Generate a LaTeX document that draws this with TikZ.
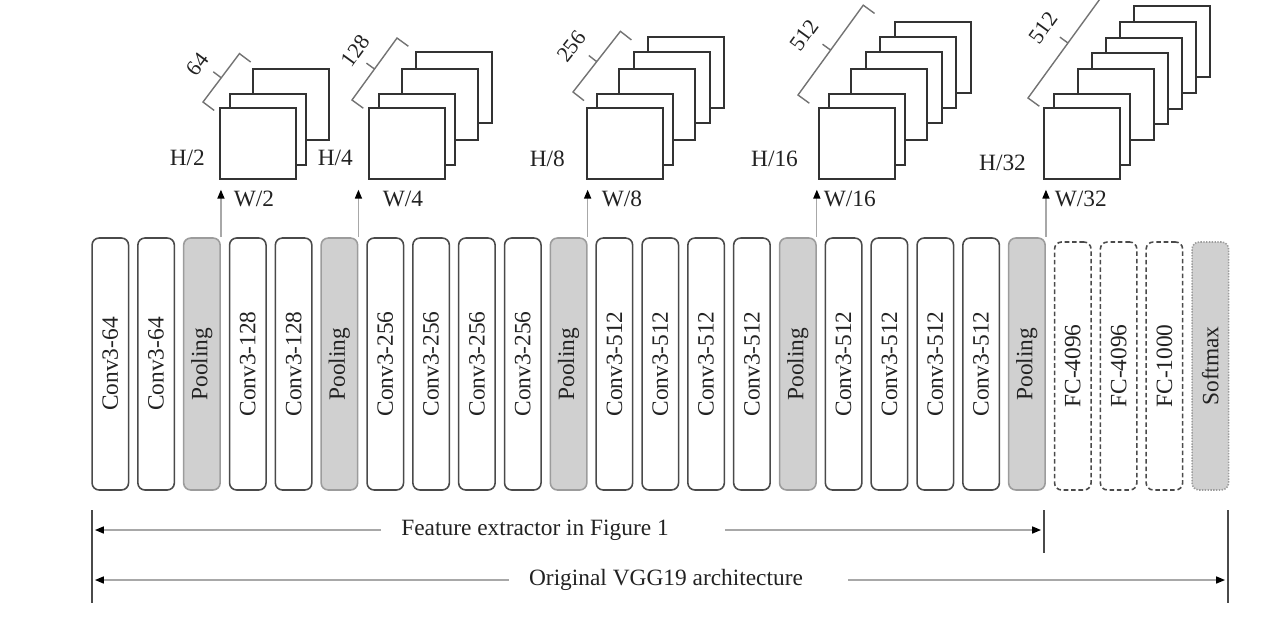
\documentclass[tikz,border=0pt]{standalone}
\usepackage{fontspec}
\setmainfont{Liberation Serif}
\usepackage{graphicx}
\usepackage{tikz}
\usetikzlibrary{
  positioning,
  arrows.meta,
  calc
}

\definecolor{boxline}{HTML}{4A4A4A}
\definecolor{poolfill}{HTML}{D0D0D0}
\definecolor{poolline}{HTML}{9C9C9C}
\definecolor{connline}{HTML}{A8A8A8}
\definecolor{txt}{HTML}{222222}

\tikzset{
  layer/.style={draw=boxline, line width=0.9pt, rounded corners=4pt, fill=white,
    minimum width=0.73cm, minimum height=5.04cm, inner sep=0pt, text=txt,
    font=\fontsize{13.3}{15}\selectfont},
  pool/.style={layer, draw=poolline, fill=poolfill},
  fc/.style={layer, dash pattern=on 2.6pt off 1.6pt, minimum height=4.96cm},
  soft/.style={layer, dash pattern=on 0.8pt off 0.8pt, draw=poolline, fill=poolfill, minimum height=4.96cm},
  fmap/.style={draw=black!80, line width=1pt, fill=white, minimum width=1.52cm,
    minimum height=1.42cm, inner sep=0pt},
  fmback/.style={draw=black!80, line width=1pt, fill=white},
  lbl/.style={text=txt, font=\fontsize{13.3}{15}\selectfont, inner sep=1pt},
  chlbl/.style={lbl, font=\fontsize{12.5}{14}\selectfont},
  uparrow/.style={draw=connline, line width=0.7pt, shorten >=0.2cm,
    -{Triangle[color=black,length=5pt,width=4pt]}},
  dimarrow/.style={draw=connline, line width=0.7pt, shorten >=0.06cm,
    -{Triangle[color=black,length=5pt,width=4pt]}},
  dimbar/.style={draw=boxline, line width=1pt},
  bracket/.style={draw=black!55, line width=0.8pt},
}

\begin{document}
\begin{tikzpicture}[x=0.02cm,y=-0.02cm]
  \useasboundingbox (0,0) rectangle (1275,629);
  \clip (0,0) rectangle (1275,629);

  % layers of the network
  \node[layer] (conv1a) at (110.3,364) {\rotatebox{90}{Conv3-64}};
  \node[layer] (conv1b) at (156.1,364) {\rotatebox{90}{Conv3-64}};
  \node[pool] (pool1) at (201.9,364) {\rotatebox{90}{Pooling}};
  \node[layer] (conv2a) at (247.8,364) {\rotatebox{90}{Conv3-128}};
  \node[layer] (conv2b) at (293.6,364) {\rotatebox{90}{Conv3-128}};
  \node[pool] (pool2) at (339.4,364) {\rotatebox{90}{Pooling}};
  \node[layer] (conv3a) at (385.3,364) {\rotatebox{90}{Conv3-256}};
  \node[layer] (conv3b) at (431.1,364) {\rotatebox{90}{Conv3-256}};
  \node[layer] (conv3c) at (476.9,364) {\rotatebox{90}{Conv3-256}};
  \node[layer] (conv3d) at (522.8,364) {\rotatebox{90}{Conv3-256}};
  \node[pool] (pool3) at (568.6,364) {\rotatebox{90}{Pooling}};
  \node[layer] (conv4a) at (614.4,364) {\rotatebox{90}{Conv3-512}};
  \node[layer] (conv4b) at (660.3,364) {\rotatebox{90}{Conv3-512}};
  \node[layer] (conv4c) at (706.1,364) {\rotatebox{90}{Conv3-512}};
  \node[layer] (conv4d) at (751.9,364) {\rotatebox{90}{Conv3-512}};
  \node[pool] (pool4) at (797.8,364) {\rotatebox{90}{Pooling}};
  \node[layer] (conv5a) at (843.6,364) {\rotatebox{90}{Conv3-512}};
  \node[layer] (conv5b) at (889.4,364) {\rotatebox{90}{Conv3-512}};
  \node[layer] (conv5c) at (935.3,364) {\rotatebox{90}{Conv3-512}};
  \node[layer] (conv5d) at (981.1,364) {\rotatebox{90}{Conv3-512}};
  \node[pool] (pool5) at (1026.9,364) {\rotatebox{90}{Pooling}};
  \node[fc] (fc6) at (1072.8,366) {\rotatebox{90}{FC-4096}};
  \node[fc] (fc7) at (1118.6,366) {\rotatebox{90}{FC-4096}};
  \node[fc] (fc8) at (1164.4,366) {\rotatebox{90}{FC-1000}};
  \node[soft] (softmax) at (1210.3,366) {\rotatebox{90}{Softmax}};

  % feature map stacks
  \foreach \dx/\dy in {34/38,11/13}
    \draw[fmback] (219+\dx,107-\dy) rectangle ++(76,71);
  \node[fmap, anchor=north west] (fm1) at (219,107) {};
  \foreach \dx/\dy in {48/55,34/38,11/13}
    \draw[fmback] (368+\dx,107-\dy) rectangle ++(76,71);
  \node[fmap, anchor=north west] (fm2) at (368,107) {};
  \foreach \dx/\dy in {62/70,48/55,33/38,11/13}
    \draw[fmback] (586+\dx,107-\dy) rectangle ++(76,71);
  \node[fmap, anchor=north west] (fm3) at (586,107) {};
  \foreach \dx/\dy in {77/85,62/70,48/55,33/38,11/13}
    \draw[fmback] (818+\dx,107-\dy) rectangle ++(76,71);
  \node[fmap, anchor=north west] (fm4) at (818,107) {};
  \foreach \dx/\dy in {91/101,77/85,63/69,49/54,35/38,11/13}
    \draw[fmback] (1043+\dx,107-\dy) rectangle ++(76,71);
  \node[fmap, anchor=north west] (fm5) at (1043,107) {};

  % sizes
  \node[lbl, left=0.24cm of fm1, yshift=-0.29cm] (h1) {H/2};
  \node[lbl, below=0.18cm of fm1, xshift=-0.08cm] (w1) {W/2};
  \node[lbl, left=0.26cm of fm2, yshift=-0.29cm] (h2) {H/4};
  \node[lbl, below=0.18cm of fm2, xshift=-0.08cm] (w2) {W/4};
  \node[lbl, left=0.38cm of fm3, yshift=-0.3cm] (h3) {H/8};
  \node[lbl, below=0.18cm of fm3, xshift=-0.06cm] (w3) {W/8};
  \node[lbl, left=0.36cm of fm4, yshift=-0.31cm] (h4) {H/16};
  \node[lbl, below=0.18cm of fm4, xshift=-0.14cm] (w4) {W/16};
  \node[lbl, left=0.30cm of fm5, yshift=-0.4cm] (h5) {H/32};
  \node[lbl, below=0.18cm of fm5, xshift=-0.02cm] (w5) {W/32};

  % channel brackets
  \begin{scope}[shift={(203,102)}, rotate=53]
    \draw[bracket] (0,14) -- (0,0) -- (60.6,0) -- (60.6,14) (30.3,0) -- (30.3,-10);
    \node[chlbl, rotate=53] (c1) at (27,-27) {64};
  \end{scope}
  \begin{scope}[shift={(352,100)}, rotate=54]
    \draw[bracket] (0,14) -- (0,0) -- (76.6,0) -- (76.6,14) (38.3,0) -- (38.3,-10);
    \node[chlbl, rotate=54] (c2) at (42,-26) {128};
  \end{scope}
  \begin{scope}[shift={(573,92)}, rotate=52]
    \draw[bracket] (0,14) -- (0,0) -- (77,0) -- (77,14) (38.5,0) -- (38.5,-10);
    \node[chlbl, rotate=52] (c3) at (35,-29) {256};
  \end{scope}
  \begin{scope}[shift={(798,95)}, rotate=54]
    \draw[bracket] (0,14) -- (0,0) -- (111,0) -- (111,14) (55.5,0) -- (55.5,-10);
    \node[chlbl, rotate=54] (c4) at (52,-30) {512};
  \end{scope}
  \begin{scope}[shift={(1028,98)}, rotate=54]
    \draw[bracket] (0,14) -- (0,0) -- (136,0) -- (136,14) (68,0) -- (68,-10);
    \node[chlbl, rotate=54] (c5) at (66,-29) {512};
  \end{scope}

  % pooling outputs
  \draw[uparrow] (pool1.north east) -- (pool1.north east |- fm1.south);
  \draw[uparrow] (pool2.north east) -- (pool2.north east |- fm2.south);
  \draw[uparrow] (pool3.north east) -- (pool3.north east |- fm3.south);
  \draw[uparrow] (pool4.north east) -- (pool4.north east |- fm4.south);
  \draw[uparrow] (pool5.north east) -- (pool5.north east |- fm5.south);

  % extents
  \draw[dimbar] (92,510) -- (92,603);
  \draw[dimbar] (1044,510) -- (1044,553);
  \draw[dimbar] (1228,510) -- (1228,603);
  \coordinate (featL) at (92,530);
  \coordinate (featR) at (1044,530);
  \coordinate (origL) at (92,580);
  \coordinate (origR) at (1228,580);
  \node[lbl] (feat) at (535,530) {Feature extractor in Figure 1};
  \node[lbl] (orig) at (666,580) {Original VGG19 architecture};
  \draw[dimarrow] ([xshift=-0.36cm]feat.west) -- (featL);
  \draw[dimarrow] ([xshift=1.08cm]feat.east) -- (featR);
  \draw[dimarrow] ([xshift=-0.36cm]orig.west) -- (origL);
  \draw[dimarrow] ([xshift=0.86cm]orig.east) -- (origR);
\end{tikzpicture}
\end{document}
